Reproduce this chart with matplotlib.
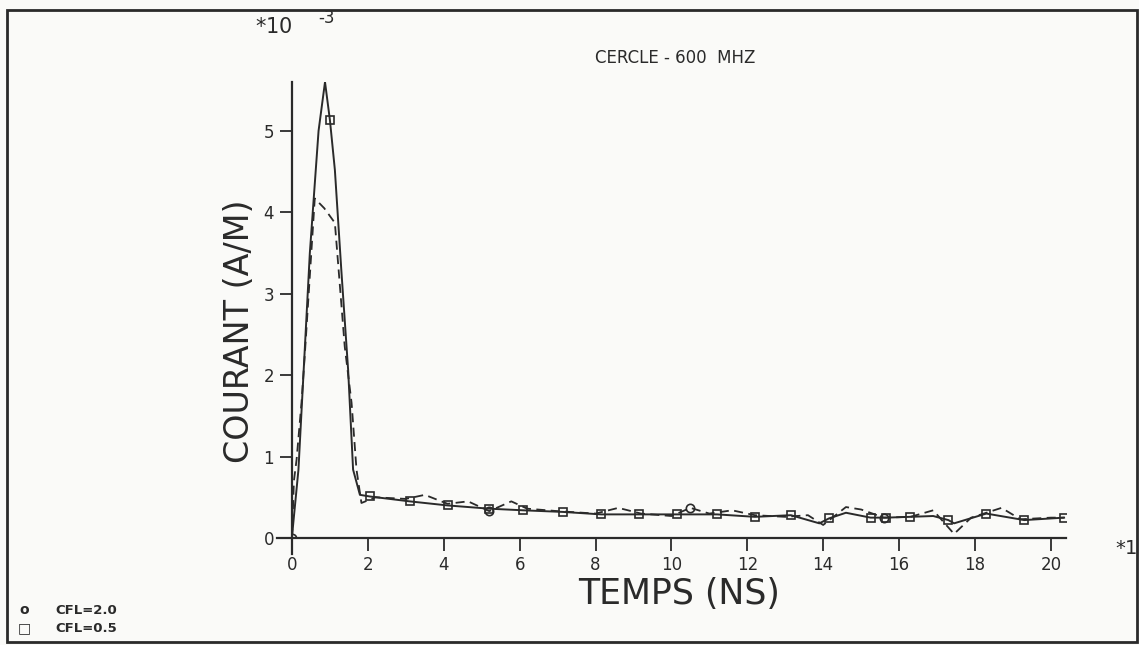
import numpy as np
import matplotlib
matplotlib.use('Agg')
from matplotlib import pyplot as plt
from matplotlib.patches import Rectangle

# courant induit, cercle a 600 MHz (unites de 1e-3 A/M), temps en ns
t_cfl05 = [0.0, 0.17, 0.47, 0.70, 0.87, 1.0, 1.13, 1.3, 1.48, 1.61, 1.79,
           2.05, 3.1, 4.1, 5.2, 6.1, 7.15, 8.15, 9.15, 10.15, 11.2, 12.2,
           13.15, 13.9, 14.15, 14.6, 15.25, 15.65, 16.3, 16.9, 17.3, 17.45,
           18.3, 19.3, 20.35]
i_cfl05 = [0.02, 0.84, 3.5, 5.0, 5.6, 5.13, 4.52, 3.29, 2.06, 0.84, 0.53,
           0.51, 0.45, 0.40, 0.36, 0.34, 0.32, 0.29, 0.29, 0.29, 0.29, 0.26,
           0.28, 0.18, 0.24, 0.31, 0.25, 0.25, 0.26, 0.27, 0.22, 0.18,
           0.30, 0.22, 0.25]
mark_cfl05 = [5, 11, 12, 13, 14, 15, 16, 17, 18, 19, 20, 21, 22, 24, 26, 27,
              28, 30, 32, 33, 34]

t_cfl20 = [0.0, 0.05, 0.12, 0.25, 0.34, 0.6, 0.85, 1.13, 1.39, 1.57, 1.7,
           1.83, 2.2, 3.0, 3.5, 4.1, 4.64, 5.2, 5.78, 6.2, 7.0, 8.0, 8.6,
           9.2, 10.0, 10.5, 11.0, 11.6, 12.2, 13.0, 13.6, 14.0, 14.6, 15.0,
           15.6, 16.3, 16.9, 17.45, 17.9, 18.7, 19.2, 20.0, 20.35]
i_cfl20 = [0.0, 0.7, 0.96, 1.66, 2.27, 4.17, 4.05, 3.87, 2.35, 1.66, 0.84,
           0.43, 0.50, 0.48, 0.53, 0.42, 0.45, 0.33, 0.45, 0.36, 0.33, 0.30,
           0.37, 0.30, 0.27, 0.37, 0.30, 0.34, 0.28, 0.26, 0.28, 0.16, 0.38,
           0.35, 0.25, 0.26, 0.34, 0.05, 0.25, 0.37, 0.23, 0.25, 0.25]
mark_cfl20 = [0, 17, 25, 34]

x_ticks = [0, 2, 4, 6, 8, 10, 12, 14, 16, 18, 20]
y_ticks = [0, 1, 2, 3, 4, 5]

INK = '#2a2a2a'
BG = '#fafaf8'

W, H = 1139, 645
fig = plt.figure(figsize=(W / 100, H / 100), dpi=100, facecolor=BG)
ax = fig.add_axes([292 / W, 1 - 538 / H, (1066 - 292) / W, (538 - 82) / H])
ax.set_facecolor(BG)

ax.plot(t_cfl05, i_cfl05, '-', color=INK, lw=1.4, marker='s', ms=6,
        mfc='none', mec=INK, mew=1.2, markevery=mark_cfl05)
ax.plot(t_cfl20, i_cfl20, '--', color=INK, lw=1.3, dashes=(5, 3),
        marker='o', ms=6, mfc='none', mec=INK, mew=1.2, markevery=mark_cfl20)

ax.set_xlim(0, 20.4)
ax.set_ylim(0, 5.6)
ax.set_xticks(x_ticks)
ax.set_yticks(y_ticks)
for s in ('top', 'right'):
    ax.spines[s].set_visible(False)
for s in ('left', 'bottom'):
    ax.spines[s].set_color(INK)
    ax.spines[s].set_linewidth(1.6)
ax.spines['left'].set_bounds(-0.2, 5.6)
ax.spines['bottom'].set_bounds(-0.4, 20.4)
ax.tick_params(direction='out', length=9, width=1.3, colors=INK,
               labelsize=12, pad=4)

ax.set_xlabel('TEMPS (NS)', fontsize=25, color=INK, labelpad=2)
ax.set_ylabel('COURANT (A/M)', fontsize=24, color=INK)
ax.yaxis.set_label_coords(-0.046, 0.454)

fig.text(675 / W, 1 - 58 / H, 'CERCLE - 600  MHZ', fontsize=12, color=INK,
         ha='center', va='center')
fig.text(255 / W, 1 - 27 / H, r'$*$10', fontsize=15, color=INK,
         ha='left', va='center')
fig.text(318 / W, 1 - 18 / H, '-3', fontsize=12, color=INK,
         ha='left', va='center')
fig.text(1115 / W, 1 - 548 / H, r'$*$1', fontsize=14, color=INK,
         ha='left', va='center')

# legende en bas a gauche
fig.text(24 / W, 1 - 610 / H, 'o', fontsize=10, color=INK, ha='center',
         va='center', fontweight='bold')
fig.text(55 / W, 1 - 610 / H, 'CFL=2.0', fontsize=9.5, color=INK,
         ha='left', va='center', fontweight='bold')
fig.text(24 / W, 1 - 628 / H, '\u25a1', fontsize=10, color=INK, ha='center',
         va='center', fontweight='bold')
fig.text(55 / W, 1 - 628 / H, 'CFL=0.5', fontsize=9.5, color=INK,
         ha='left', va='center', fontweight='bold')

# cadre autour de la page
fig.patches.append(Rectangle((7 / W, 1 - 642 / H), (1137 - 7) / W,
                             (642 - 10) / H, transform=fig.transFigure,
                             fill=False, edgecolor=INK, lw=2))

fig.savefig('out.png', dpi=100, facecolor=BG)
